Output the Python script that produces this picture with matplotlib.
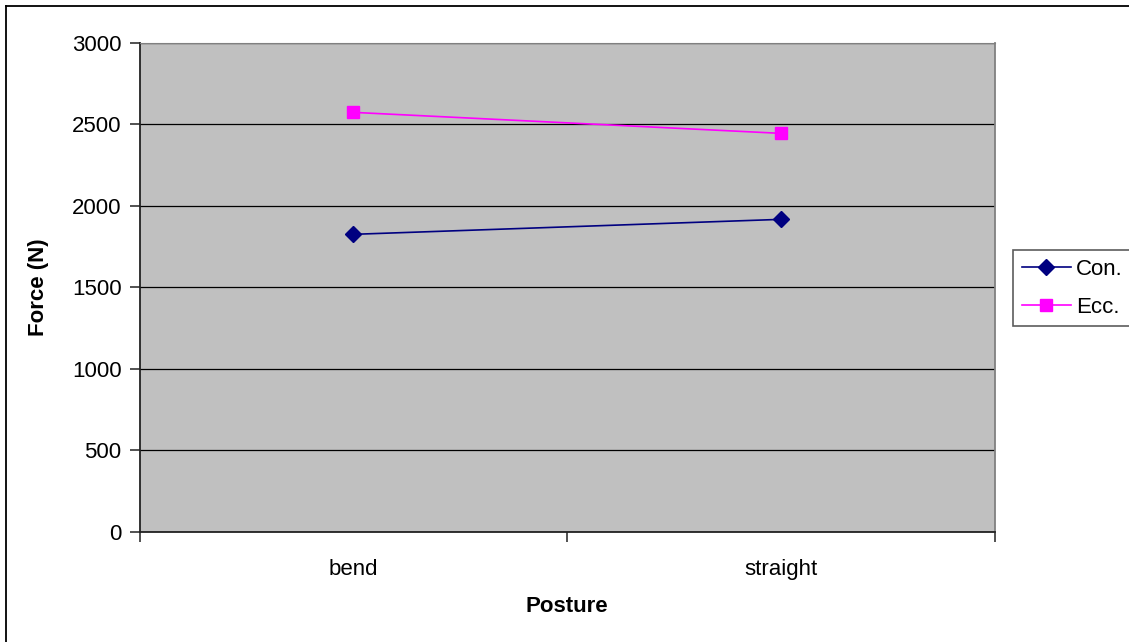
import matplotlib
matplotlib.use("Agg")
import matplotlib.pyplot as plt
from matplotlib.lines import Line2D

plt.rcParams['font.family'] = ['Liberation Sans', 'DejaVu Sans']

# Data
postures = ["bend", "straight"]
con_force = [1825, 1917]
ecc_force = [2574, 2445]
y_ticks = [0, 500, 1000, 1500, 2000, 2500, 3000]

W, H, DPI = 1129, 642, 100
fig = plt.figure(figsize=(W / DPI, H / DPI), dpi=DPI)
fig.patch.set_facecolor("white")

# Outer chart frame (left and top edges visible)
fig.add_artist(Line2D([5.5 / W, 5.5 / W], [0, 1 - 6 / H], transform=fig.transFigure,
                      color="black", lw=1.3))
fig.add_artist(Line2D([5.5 / W, 1], [1 - 6 / H, 1 - 6 / H], transform=fig.transFigure,
                      color="black", lw=1.3))

left, right, top, bottom = 139.5, 995, 43, 531.5
ax = fig.add_axes([left / W, 1 - bottom / H, (right - left) / W, (bottom - top) / H])
ax.set_facecolor("#C0C0C0")

x = list(range(len(postures)))
ax.plot(x, con_force, color="#000080", lw=1.2, marker="D", markersize=8,
        markerfacecolor="#000080", markeredgecolor="#000080", label="Con.", zorder=3)
ax.plot(x, ecc_force, color="#FF00FF", lw=1.2, marker="s", markersize=8,
        markerfacecolor="#FF00FF", markeredgecolor="#FF00FF", label="Ecc.", zorder=3)

ax.set_xlim(-0.5, len(postures) - 0.5)
ax.set_ylim(0, 3000)
ax.set_yticks(y_ticks)
ax.yaxis.grid(True, color="black", lw=0.9)
ax.set_axisbelow(True)

# Category boundaries as ticks, labels centred between them
ax.set_xticks([i - 0.5 for i in range(len(postures) + 1)])
ax.set_xticklabels([])
ax.set_xticks(x, minor=True)
ax.set_xticklabels(postures, minor=True)
ax.tick_params(axis="x", which="minor", length=0, pad=20, labelsize=16)
ax.tick_params(axis="x", which="major", length=7, width=1.2, color="#333333")
ax.tick_params(axis="y", length=7, width=1.2, color="#333333", labelsize=16, pad=6)

for side in ["left", "bottom"]:
    ax.spines[side].set_color("#222222")
    ax.spines[side].set_linewidth(1.3)
ax.spines["right"].set_color("#808080")
ax.spines["top"].set_color("#808080")
ax.spines["right"].set_linewidth(1.3)
ax.spines["top"].set_linewidth(0.8)

ax.set_ylabel("Force (N)", fontsize=16, fontweight="bold")
ax.set_xlabel("Posture", fontsize=16, fontweight="bold")
ax.yaxis.set_label_coords((38.5 - left) / (right - left), 0.5)
ax.yaxis.label.set_va("center")
ax.xaxis.set_label_coords(0.5, -(606 - bottom) / (bottom - top))
ax.xaxis.label.set_va("center")

leg = fig.legend(loc="upper left", bbox_to_anchor=(1013 / W, 1 - 250 / H),
                 fontsize=16, frameon=True, fancybox=False, handlelength=2.2,
                 handletextpad=0.25, borderpad=0.4, labelspacing=0.75,
                 borderaxespad=0)
leg.get_frame().set_edgecolor("#333333")
leg.get_frame().set_linewidth(1.2)

fig.savefig("out.png", dpi=DPI, facecolor="white")
